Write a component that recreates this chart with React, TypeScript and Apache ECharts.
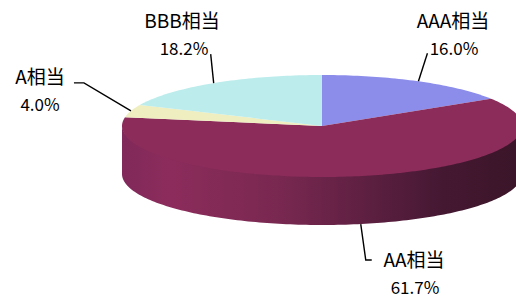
import React, { useEffect, useRef } from "react";
import * as echarts from "echarts";

const categories = ["AAA相当", "AA相当", "A相当", "BBB相当"];
const values = [16.0, 61.7, 4.0, 18.2];
const percentLabels = ["16.0%", "61.7%", "4.0%", "18.2%"];

const COLORS = ["#8C8CEB", "#8B2C5A", "#EEEEC0", "#BCECEC"];

// layout of the pseudo-3D pie
const CX = 322;
const CY = 126;
const RX = 200;
const RY = 51;
const DEPTH = 48;

// label layout: leader line offsets from slice anchor, text centres
const LABEL_LAYOUT = [
  { line: [[9, -28]], name: [453, 19], pct: [454, 47] },
  { line: [[5, 36], [11, 36]], name: [414, 258], pct: [415, 286] },
  { line: [[-47, -28], [-57, -28]], name: [40, 75], pct: [40, 103] },
  { line: [[-3, -29]], name: [182, 19], pct: [184, 47] },
];

const FONT = '"Noto Sans CJK JP", "Noto Sans", sans-serif';

function pt(t: number, dy = 0): number[] {
  return [CX + RX * Math.sin(t), CY - RY * Math.cos(t) + dy];
}

function arc(a: number, b: number, dy = 0): number[][] {
  const n = Math.max(2, Math.ceil(Math.abs(b - a) / 0.02));
  const out: number[][] = [];
  for (let i = 0; i <= n; i++) out.push(pt(a + ((b - a) * i) / n, dy));
  return out;
}

export default function App() {
  const ref = useRef<HTMLDivElement>(null);
  useEffect(() => {
    if (!ref.current) return;
    const chart = echarts.init(ref.current, null, { renderer: "svg" });
    const total = values.reduce((s, v) => s + v, 0);
    const starts: number[] = [];
    let acc = 0;
    values.forEach((v) => {
      starts.push(acc);
      acc += v;
    });

    const sideGradient = {
      type: "linear",
      x: CX - RX,
      y: 0,
      x2: CX + RX,
      y2: 0,
      global: true,
      colorStops: [
        { offset: 0, color: "#80295A" },
        { offset: 0.12, color: "#8C2C5C" },
        { offset: 0.4, color: "#782850" },
        { offset: 0.6, color: "#5F2042" },
        { offset: 0.8, color: "#451832" },
        { offset: 1, color: "#3A1528" },
      ],
    };

    const renderItem = (params: any, api: any) => {
      const i = params.dataIndex;
      const v = api.value(1);
      const a = (starts[i] / total) * Math.PI * 2;
      const b = ((starts[i] + v) / total) * Math.PI * 2;
      const children: any[] = [];
      // side (front half only: PI/2 .. 3PI/2)
      const sa = Math.max(a, Math.PI / 2);
      const sb = Math.min(b, (Math.PI * 3) / 2);
      if (sb > sa) {
        const top = arc(sa, sb, -1);
        const bottom = arc(sb, sa, DEPTH);
        children.push({
          type: "polygon",
          z2: 1,
          shape: { points: top.concat(bottom) },
          style: { fill: sideGradient, stroke: null },
        });
      }
      // top face
      children.push({
        type: "polygon",
        z2: 2,
        shape: { points: [[CX, CY]].concat(arc(a, b, 0)) },
        style: { fill: COLORS[i], stroke: null },
      });
      // leader line
      const m = (a + b) / 2;
      const front = Math.cos(m) < -0.3;
      const s = pt(m, front ? DEPTH : 0);
      const lay = LABEL_LAYOUT[i];
      const pts = [s].concat(lay.line.map((o) => [s[0] + o[0], s[1] + o[1]]));
      children.push({
        type: "polyline",
        z2: 3,
        shape: { points: pts },
        style: { stroke: "#000", lineWidth: 1.4, fill: null },
      });
      children.push({
        type: "text",
        z2: 4,
        x: lay.name[0],
        y: lay.name[1],
        style: {
          text: categories[i],
          align: "center",
          verticalAlign: "middle",
          fontSize: 19,
          fontFamily: FONT,
          fill: "#000",
        },
      });
      children.push({
        type: "text",
        z2: 4,
        x: lay.pct[0],
        y: lay.pct[1],
        style: {
          text: percentLabels[i],
          align: "center",
          verticalAlign: "middle",
          fontSize: 17,
          fontFamily: FONT,
          fill: "#000",
        },
      });
      return { type: "group", children };
    };

    chart.setOption({
      animation: false,
      backgroundColor: "#fff",
      series: [
        {
          type: "custom",
          coordinateSystem: "none",
          renderItem,
          data: values.map((v, i) => [i, v]),
        },
      ],
    });
    return () => chart.dispose();
  }, []);
  return (
    <div
      ref={ref}
      style={{ position: "fixed", left: 0, top: 0, width: 516, height: 298 }}
    />
  );
}
